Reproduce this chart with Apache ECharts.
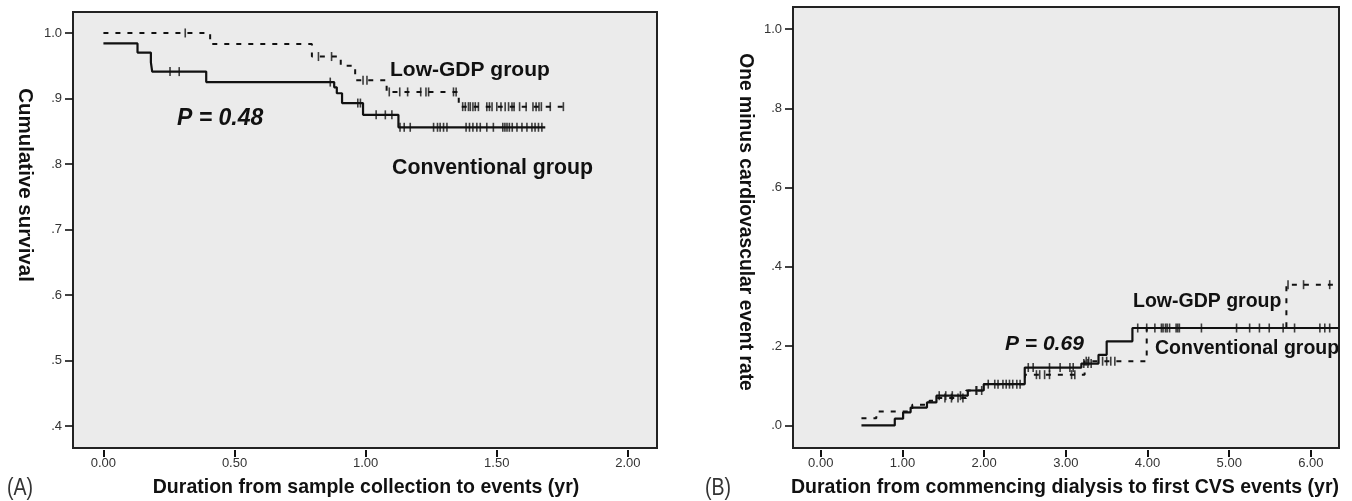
<!DOCTYPE html>
<html>
<head>
<meta charset="utf-8">
<script src="https://cdn.jsdelivr.net/npm/echarts@6/dist/echarts.min.js"></script>
<style>
html,body{margin:0;padding:0;background:#fff;}
#chart{width:1352px;height:501px;}
</style>
</head>
<body>
<div id="chart"></div>
<script>
// ---------- Panel A data ----------
const aXTicks = [0, 0.5, 1.0, 1.5, 2.0];
const aXTickLabels = ['0.00', '0.50', '1.00', '1.50', '2.00'];
const aYTicks = [0.4, 0.5, 0.6, 0.7, 0.8, 0.9, 1.0];
const aYTickLabels = ['.4', '.5', '.6', '.7', '.8', '.9', '1.0'];

const aLowTime = [0, 0.407, 0.795, 0.905, 0.96, 1.08, 1.355, 1.76];
const aLowSurv = [1.0, 0.983, 0.964, 0.950, 0.928, 0.910, 0.8875, 0.8875];
const aLowCensor = [0.312, 0.82, 0.87, 0.99, 1.005, 1.09, 1.13, 1.16, 1.21, 1.23, 1.24, 1.335, 1.345,
  1.37, 1.38, 1.392, 1.399, 1.409, 1.418, 1.43, 1.462, 1.472, 1.482, 1.50, 1.516, 1.532, 1.545,
  1.558, 1.566, 1.587, 1.612, 1.638, 1.65, 1.661, 1.67, 1.704, 1.754];

const aConvTime = [0, 0.130, 0.181, 0.186, 0.392, 0.88, 0.89, 0.91, 0.99, 1.125, 1.685];
const aConvSurv = [0.984, 0.970, 0.955, 0.941, 0.925, 0.917, 0.908, 0.893, 0.875, 0.856, 0.856];
const aConvCensor = [0.254, 0.289, 0.865, 0.97, 0.98, 1.04, 1.075, 1.10,
  1.131, 1.147, 1.170, 1.259, 1.274, 1.284, 1.297, 1.310, 1.383, 1.396, 1.409, 1.424, 1.437,
  1.462, 1.487, 1.523, 1.531, 1.539, 1.548, 1.559, 1.577, 1.596, 1.615, 1.634, 1.646, 1.659, 1.672];

// ---------- Panel B data ----------
const bXTicks = [0, 1, 2, 3, 4, 5, 6];
const bXTickLabels = ['0.00', '1.00', '2.00', '3.00', '4.00', '5.00', '6.00'];
const bYTicks = [0, 0.2, 0.4, 0.6, 0.8, 1.0];
const bYTickLabels = ['.0', '.2', '.4', '.6', '.8', '1.0'];

const bConvTime = [0.498, 0.906, 1.008, 1.10, 1.30, 1.416, 1.80, 1.995, 2.497, 3.19, 3.40, 3.50, 3.815, 6.34];
const bConvRate = [0, 0.017, 0.033, 0.045, 0.058, 0.075, 0.088, 0.104, 0.146, 0.156, 0.178, 0.212, 0.2457, 0.2457];
const bConvCensor = [1.45, 1.53, 1.61, 1.71, 1.91, 1.97, 2.05, 2.13, 2.17, 2.23, 2.27, 2.31, 2.35, 2.40, 2.44,
  2.54, 2.60, 2.80, 2.93, 3.05, 3.09, 3.22, 3.27, 3.31,
  3.88, 3.99, 4.09, 4.17, 4.19, 4.22, 4.24, 4.27, 4.35, 4.37, 4.39, 4.66, 5.09, 5.25, 5.37, 5.49,
  5.66, 5.80, 6.11, 6.17, 6.23];

const bLowTime = [0.498, 0.68, 1.12, 1.33, 1.42, 1.78, 1.98, 2.50, 3.23, 3.99, 5.70, 6.34];
const bLowRate = [0.018, 0.035, 0.052, 0.062, 0.069, 0.088, 0.104, 0.128, 0.162, 0.2457, 0.355, 0.355];
const bLowCensor = [1.52, 1.60, 1.68, 1.74, 1.90, 2.64, 2.68, 2.74, 2.80, 3.07, 3.11,
  3.25, 3.28, 3.45, 3.50, 3.55, 3.60, 5.72, 5.91, 6.23];

// ---------- helpers ----------
function pairs(t, v) { return t.map((x, i) => [x, v[i]]); }
function levelAt(t, v, x) { let r = v[0]; for (let i = 0; i < t.length; i++) { if (t[i] <= x) r = v[i]; } return r; }
function censorPts(ct, t, v) { return ct.map(x => [x, levelAt(t, v, x)]); }

const FONT = "'Liberation Sans', Arial, Helvetica, sans-serif";
const INK = '#111';
const BG = '#ebebeb';

function xAxisCfg(gi, min, max, ticks, labels) {
  return {
    type: 'value', gridIndex: gi, min: min, max: max, offset: 2, position: 'bottom',
    axisLine: { show: false, onZero: false },
    splitLine: { show: false },
    axisTick: { show: true, length: 7, lineStyle: { color: INK, width: 2 }, customValues: ticks },
    axisLabel: { show: true, margin: 7, customValues: ticks, color: '#333', fontSize: 13, fontFamily: FONT,
      formatter: v => { const i = ticks.findIndex(t => Math.abs(t - v) < 1e-9); return i >= 0 ? labels[i] : ''; } }
  };
}
function yAxisCfg(gi, min, max, ticks, labels) {
  return {
    type: 'value', gridIndex: gi, min: min, max: max, position: 'left',
    axisLine: { show: false, onZero: false },
    splitLine: { show: false },
    axisTick: { show: true, length: 8, lineStyle: { color: INK, width: 1.6 }, customValues: ticks },
    axisLabel: { show: true, margin: 11, customValues: ticks, color: '#333', fontSize: 13, fontFamily: FONT,
      formatter: v => { const i = ticks.findIndex(t => Math.abs(t - v) < 1e-9); return i >= 0 ? labels[i] : ''; } }
  };
}
function txt(text, x, y, size, opts) {
  opts = opts || {};
  return {
    type: 'text', x: x, y: y, rotation: opts.rotation || 0, scaleX: opts.scaleX || 1, z: 100,
    style: {
      text: text, fill: opts.fill || INK,
      fontSize: size, fontWeight: opts.weight || 'bold', fontStyle: opts.italic ? 'italic' : 'normal',
      fontFamily: FONT,
      align: opts.align || 'left', textAlign: opts.align || 'left',
      verticalAlign: 'middle', textVerticalAlign: 'middle'
    }
  };
}

const chart = echarts.init(document.getElementById('chart'), null, { renderer: 'canvas' });
chart.setOption({
  animation: false,
  backgroundColor: '#fff',
  grid: [
    { left: 73, top: 12, width: 584, height: 436, show: true, backgroundColor: BG, borderColor: '#222', borderWidth: 2 },
    { left: 793, top: 7, width: 546, height: 441, show: true, backgroundColor: BG, borderColor: '#222', borderWidth: 2 }
  ],
  xAxis: [
    xAxisCfg(0, -0.116, 2.111, aXTicks, aXTickLabels),
    xAxisCfg(1, -0.34, 6.344, bXTicks, bXTickLabels)
  ],
  yAxis: [
    yAxisCfg(0, 0.3664, 1.032, aYTicks, aYTickLabels),
    yAxisCfg(1, -0.057, 1.0555, bYTicks, bYTickLabels)
  ],
  series: [
    { name: 'Low-GDP group (A)', type: 'line', xAxisIndex: 0, yAxisIndex: 0, step: 'end', symbol: 'none',
      data: pairs(aLowTime, aLowSurv), lineStyle: { color: INK, width: 2, type: [5, 7] } },
    { name: 'Conventional group (A)', type: 'line', xAxisIndex: 0, yAxisIndex: 0, step: 'end', symbol: 'none',
      data: pairs(aConvTime, aConvSurv), lineStyle: { color: INK, width: 2.2 } },
    { name: 'Low-GDP censored (A)', type: 'scatter', xAxisIndex: 0, yAxisIndex: 0, symbol: 'rect', symbolSize: [1.6, 9],
      data: censorPts(aLowCensor, aLowTime, aLowSurv), itemStyle: { color: INK } },
    { name: 'Conventional censored (A)', type: 'scatter', xAxisIndex: 0, yAxisIndex: 0, symbol: 'rect', symbolSize: [1.6, 9],
      data: censorPts(aConvCensor, aConvTime, aConvSurv), itemStyle: { color: INK } },

    { name: 'Low-GDP group (B)', type: 'line', xAxisIndex: 1, yAxisIndex: 1, step: 'end', symbol: 'none',
      data: pairs(bLowTime, bLowRate), lineStyle: { color: INK, width: 2, type: [5, 7] } },
    { name: 'Conventional group (B)', type: 'line', xAxisIndex: 1, yAxisIndex: 1, step: 'end', symbol: 'none',
      data: pairs(bConvTime, bConvRate), lineStyle: { color: INK, width: 2.2 } },
    { name: 'Low-GDP censored (B)', type: 'scatter', xAxisIndex: 1, yAxisIndex: 1, symbol: 'rect', symbolSize: [1.6, 9],
      data: censorPts(bLowCensor, bLowTime, bLowRate), itemStyle: { color: INK } },
    { name: 'Conventional censored (B)', type: 'scatter', xAxisIndex: 1, yAxisIndex: 1, symbol: 'rect', symbolSize: [1.6, 9],
      data: censorPts(bConvCensor, bConvTime, bConvRate), itemStyle: { color: INK } }
  ],
  graphic: [
    // panel A
    txt('Cumulative survival', 25, 185, 20.5, { align: 'center', rotation: -Math.PI / 2 }),
    txt('Duration from sample collection to events (yr)', 366, 487, 21, { align: 'center', scaleX: 0.93 }),
    txt('(A)', 7, 489, 23, { weight: 'normal', fill: '#333', scaleX: 0.85 }),
    txt('P = 0.48', 177, 119, 23, { italic: true }),
    txt('Low-GDP group', 390, 70, 21),
    txt('Conventional group', 392, 168, 21.3),
    // panel B
    txt('One minus cardiovascular event rate', 745, 222, 19.3, { align: 'center', rotation: -Math.PI / 2 }),
    txt('Duration from commencing dialysis to first CVS events (yr)', 1065, 487, 21, { align: 'center', scaleX: 0.93 }),
    txt('(B)', 705, 489, 23, { weight: 'normal', fill: '#333', scaleX: 0.85 }),
    txt('P = 0.69', 1005, 344, 21, { italic: true }),
    txt('Low-GDP group', 1133, 302, 19.5),
    txt('Conventional group', 1155, 349, 19.5)
  ]
});
</script>
</body>
</html>
